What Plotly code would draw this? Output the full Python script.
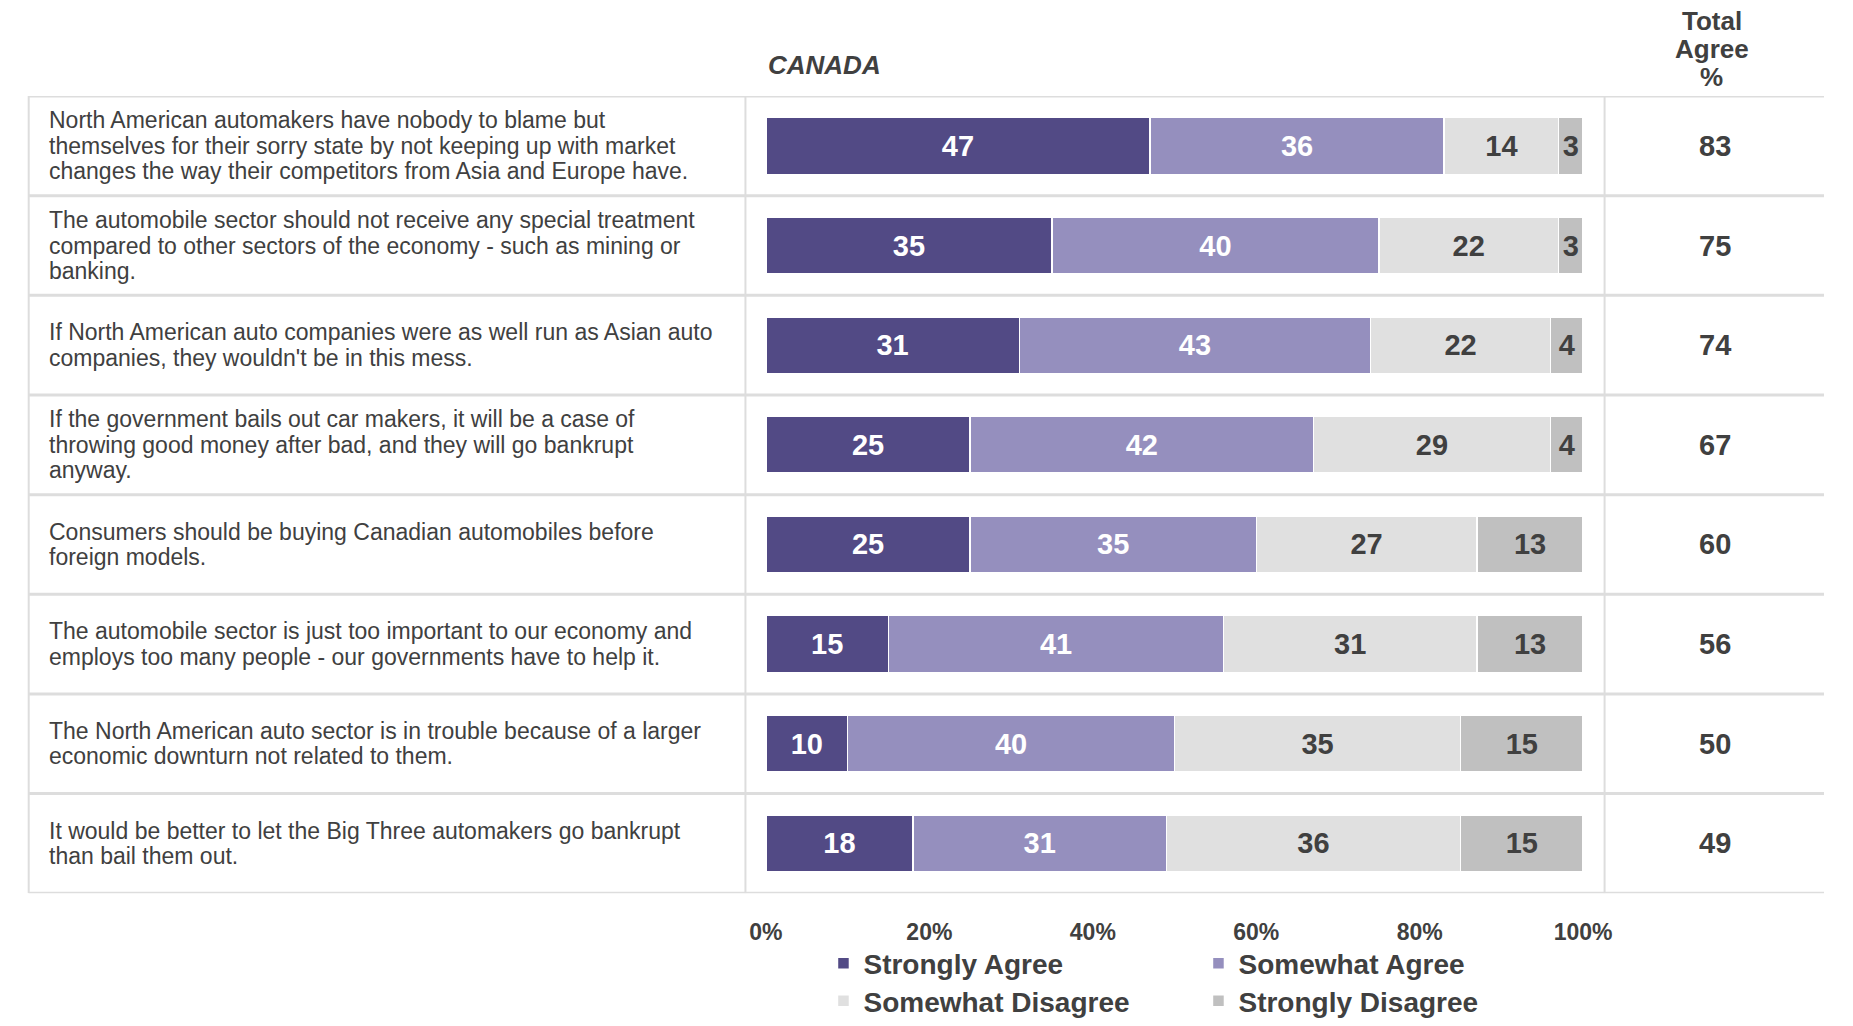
import plotly.graph_objects as go

W, H = 1853, 1026

statements = [
    "North American automakers have nobody to blame but<br>themselves for their sorry state by not keeping up with market<br>changes the way their competitors from Asia and Europe have.",
    "The automobile sector should not receive any special treatment<br>compared to other sectors of the economy - such as mining or<br>banking.",
    "If North American auto companies were as well run as Asian auto<br>companies, they wouldn't be in this mess.",
    "If the government bails out car makers, it will be a case of<br>throwing good money after bad, and they will go bankrupt<br>anyway.",
    "Consumers should be buying Canadian automobiles before<br>foreign models.",
    "The automobile sector is just too important to our economy and<br>employs too many people - our governments have to help it.",
    "The North American auto sector is in trouble because of a larger<br>economic downturn not related to them.",
    "It would be better to let the Big Three automakers go bankrupt<br>than bail them out.",
]
strongly_agree = [47, 35, 31, 25, 25, 15, 10, 18]
somewhat_agree = [36, 40, 43, 42, 35, 41, 40, 31]
somewhat_disagree = [14, 22, 22, 29, 27, 31, 35, 36]
strongly_disagree = [3, 3, 4, 4, 13, 13, 15, 15]
total_agree = [83, 75, 74, 67, 60, 56, 50, 49]
series_names = ["Strongly Agree", "Somewhat Agree", "Somewhat Disagree", "Strongly Disagree"]
tick_values = [0, 20, 40, 60, 80, 100]
tick_labels = ["0%", "20%", "40%", "60%", "80%", "100%"]
header_lines = ["Total", "Agree", "%"]

FONT = "Liberation Sans"
DARK = "#404040"
colors = ["#524a85", "#958fbe", "#e0e0e0", "#c0c0c0"]
text_colors = ["white", "white", DARK, DARK]
legends = ["legend", "legend", "legend2", "legend2"]

def px_x(p):
    return p / W

def px_y(p):
    return 1 - p / H

rows = list(range(len(statements)))
fig = go.Figure()
for name, vals, col, tcol, lg in zip(series_names,
                                     [strongly_agree, somewhat_agree, somewhat_disagree, strongly_disagree],
                                     colors, text_colors, legends):
    fig.add_trace(go.Bar(
        x=vals, y=rows, orientation="h", name=name,
        marker=dict(color=col, line=dict(color="white", width=1.5)),
        width=0.57,
        text=vals, textposition="inside", insidetextanchor="middle",
        textfont=dict(family=FONT, size=29, color=tcol, weight="bold"),
        constraintext="none",
        legend=lg,
        hoverinfo="skip",
    ))

top_px, bot_px = 97, 902
legend_font = dict(family=FONT, size=28, color=DARK, weight="bold")
fig.update_layout(
    width=W, height=H,
    margin=dict(l=0, r=0, t=0, b=0),
    paper_bgcolor="white", plot_bgcolor="white",
    barmode="stack",
    font=dict(family=FONT, color=DARK),
    xaxis=dict(domain=[px_x(768), px_x(1606)], range=[0, 100], anchor="free",
               position=px_y(925), showgrid=False, zeroline=False, showline=False,
               tickmode="array", tickvals=tick_values, ticktext=tick_labels, ticks="",
               tickfont=dict(family=FONT, size=23, color=DARK, weight="bold"),
               fixedrange=True),
    yaxis=dict(domain=[px_y(bot_px), px_y(top_px)], range=[7.5, -0.5], visible=False,
               fixedrange=True),
    legend=dict(orientation="h", x=px_x(827), xanchor="left", y=px_y(973), yanchor="middle",
                entrywidth=330, entrywidthmode="pixels", font=legend_font,
                bgcolor="rgba(0,0,0,0)", traceorder="normal"),
    legend2=dict(orientation="h", x=px_x(827), xanchor="left", y=px_y(1011), yanchor="middle",
                 entrywidth=330, entrywidthmode="pixels", font=legend_font,
                 bgcolor="rgba(0,0,0,0)", traceorder="normal"),
    showlegend=True,
)

shapes = []
LINE = "#dddddd"
for i in range(len(statements) + 1):
    shapes.append(dict(type="line", xref="paper", yref="y", x0=px_x(12), x1=1,
                       y0=i - 0.5, y1=i - 0.5, line=dict(color=LINE, width=3)))
for xp in [12, 747, 1628]:
    shapes.append(dict(type="line", xref="paper", yref="y", x0=px_x(xp), x1=px_x(xp),
                       y0=-0.5, y1=7.5, line=dict(color=LINE, width=2)))
fig.update_layout(shapes=shapes)

ann = []
STMT_LH = 25.5
for i, s in enumerate(statements):
    lines = s.split("<br>")
    n = len(lines)
    for k, ln in enumerate(lines):
        ann.append(dict(text=ln, xref="paper", yref="y", x=px_x(31), y=i, xanchor="left",
                        yanchor="middle", align="left", showarrow=False,
                        yshift=((n - 1) / 2 - k) * STMT_LH,
                        font=dict(family=FONT, size=23, color=DARK)))
    ann.append(dict(text=str(total_agree[i]), xref="paper", yref="y", x=px_x(1741), y=i,
                    xanchor="center", yanchor="middle", showarrow=False, yshift=0,
                    font=dict(family=FONT, size=29, color=DARK, weight="bold")))
ann.append(dict(text="<i>CANADA</i>", xref="paper", yref="paper", x=px_x(828), y=px_y(66),
                xanchor="center", yanchor="middle", showarrow=False,
                font=dict(family=FONT, size=26, color=DARK, weight="bold")))
HDR_LH = 28.5
for k, ln in enumerate(header_lines):
    ann.append(dict(text=ln, xref="paper", yref="paper", x=px_x(1738), y=px_y(21 + k * HDR_LH),
                    xanchor="center", yanchor="middle", showarrow=False,
                    font=dict(family=FONT, size=26, color=DARK, weight="bold")))
fig.update_layout(annotations=ann)

fig.write_html("out.html", config={"displayModeBar": False},
               post_script="document.body.style.margin='0';document.body.style.overflow='hidden';")
